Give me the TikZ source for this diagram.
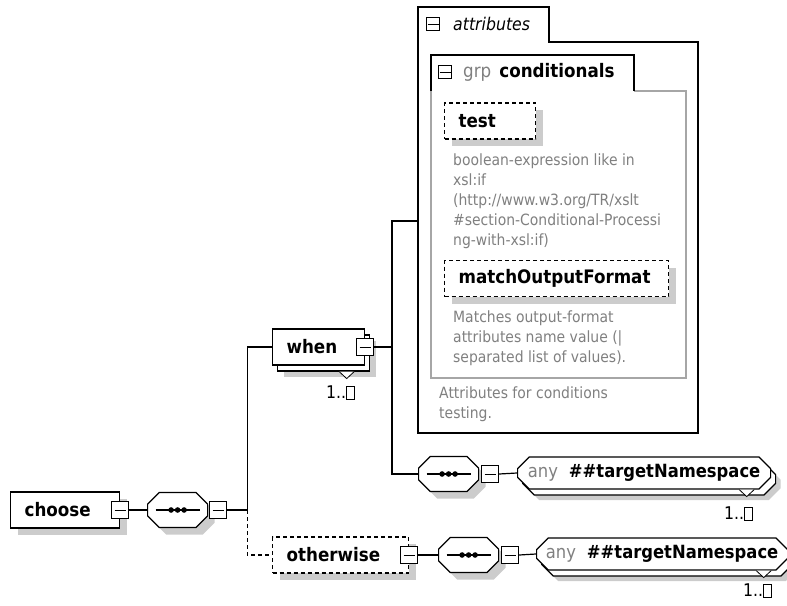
\documentclass[tikz,border=0pt]{standalone}
\usepackage{fontspec}
\setmainfont{DejaVu Sans}[FakeStretch=0.9]
\usetikzlibrary{shapes.misc,shadows}

\newcommand\namefont{\fontsize{18.6}{22}\selectfont\bfseries}
\newcommand\anyfont{\fontsize{18.2}{22}\selectfont}
\newcommand\descfont{\fontsize{15.5}{20}\selectfont}
\newcommand\infbox{{\setlength\fboxsep{0pt}\setlength\fboxrule{0.9pt}\fbox{\rule{0pt}{12pt}\hspace{7pt}}}}

\tikzset{
  box/.style={draw, line width=1.2pt, fill=white, anchor=west},
  elem/.style={box, minimum height=36pt, inner xsep=14pt, inner ysep=0pt, align=left, font=\namefont,
    drop shadow={shadow xshift=7pt, shadow yshift=-7pt, fill=gray!40, draw=none, opacity=1}},
  multielem/.style={box, minimum height=36pt, inner xsep=14pt, inner ysep=0pt, align=left, font=\namefont,
    drop shadow={shadow xshift=11pt, shadow yshift=-12pt, fill=gray!40, draw=none, opacity=1},
    copy shadow={shadow xshift=5pt, shadow yshift=-6pt, draw, fill=white, line width=1.2pt}},
  optional/.style={dash pattern=on 4pt off 3pt},
  seq/.style={box, chamfered rectangle, chamfered rectangle xsep=8pt, text width=44pt, text height=11pt, text depth=6pt,
    inner xsep=0pt, inner ysep=0pt, minimum width=60pt, minimum height=35pt,
    drop shadow={shadow xshift=7pt, shadow yshift=-7pt, fill=gray!40, draw=none, opacity=1},
    path picture={
      \draw[black, line width=1.2pt] ([xshift=-22pt]path picture bounding box.center) -- ([xshift=22pt]path picture bounding box.center);
      \foreach \dx in {-6.5,0,6.5} \fill[black] ([xshift=\dx pt]path picture bounding box.center) circle[radius=2.8pt];
    }},
  anybox/.style={box, chamfered rectangle, chamfered rectangle xsep=8pt, minimum height=32pt, inner sep=0pt, font=\anyfont,
    drop shadow={shadow xshift=10pt, shadow yshift=-11pt, fill=gray!40, draw=none, opacity=1},
    copy shadow={shadow xshift=5pt, shadow yshift=-6pt, draw, fill=white, line width=1.2pt}},
  toggle/.style={draw, fill=white, line width=1pt, minimum size=17pt, inner sep=0pt,
    path picture={\draw[black, line width=1pt] ([xshift=-5.5pt]path picture bounding box.center) -- ([xshift=5.5pt]path picture bounding box.center);}},
  smalltoggle/.style={toggle, minimum size=13pt},
  desc/.style={anchor=north west, inner sep=0pt, align=left, font=\descfont, text=gray},
  mult/.style={anchor=east, inner sep=0pt, font=\fontsize{17.5}{20}\selectfont},
  link/.style={line width=1.2pt},
  tri/.style={line width=0.8pt, fill=white}
}

\begin{document}
\begin{tikzpicture}[x=1pt,y=-1pt]
  \useasboundingbox (0,0) rectangle (787,605);

  % attributes panel
  \draw[line width=1.2pt, fill=white] (418,433) -- (418,7) -- (549,7) -- (549,42) -- (698,42) -- (698,433) -- cycle;
  \node[smalltoggle] (attrT) at (433,24) {};
  \node[anchor=west, inner sep=0pt, font=\fontsize{17.5}{20}\selectfont\itshape] (attrTitle) at (453,24) {attributes};
  \coordinate (attrIn) at (418,221);
  \draw[gray!70, line width=1.2pt] (634,91) -- (686,91) -- (686,378) -- (431,378) -- (431,91);
  \draw[line width=1.2pt] (431,91) -- (431,55) -- (634,55) -- (634,91);
  \node[smalltoggle] (grpT) at (445,72) {};
  \node[anchor=west, inner sep=0pt, font=\namefont] (grpTitle) at (463,72) {\textcolor{gray}{\mdseries grp}\hspace{8pt}conditionals};

  \node[elem, optional, text width=63pt] (test) at (444,121) {test};
  \node[desc] (testDoc) at (453,154) {boolean-expression like in\\xsl:if\\(http://www.w3.org/TR/xslt\\\#section-Conditional-Processi\\ng-with-xsl:if)};
  \node[elem, optional, text width=196pt] (match) at (444,278.5) {matchOutputFormat};
  \node[desc] (matchDoc) at (453,311) {Matches output-format\\attributes name value (|\\separated list of values).};
  \node[desc] (attrDoc) at (439,387) {Attributes for conditions\\testing.};

  % main tree
  \node[elem, text width=81pt] (choose) at (10,510) {choose};
  \node[toggle] (chooseT) at (choose.east) {};
  \node[seq] (seq1) at (147,510) {};
  \node[toggle, anchor=west] (seq1T) at ([xshift=1pt]seq1.east) {};

  \node[multielem, text width=64pt] (when) at (272,347) {when};
  \node[toggle] (whenT) at (when.east) {};
  \draw[tri] ([shift={(-26,6)}]when.south east) -- ++(7.5,7) -- ++(7.5,-7);
  \node[mult] (whenM) at ([shift={(-10,27)}]when.south east) {1..\infbox};

  \node[elem, optional, text width=108pt] (otherwise) at (272,555) {otherwise};
  \node[toggle] (otherwiseT) at (otherwise.east) {};

  \node[seq] (seq2) at (418,474) {};
  \node[toggle, anchor=west] (seq2T) at ([xshift=2pt]seq2.east) {};
  \node[anybox, minimum width=253pt] (any1) at (517,473) {\textcolor{gray}{any}\hspace{11pt}\textbf{\#\#targetNamespace}};
  \draw[tri] ([shift={(-26,6)}]any1.south east) -- ++(7.5,7) -- ++(7.5,-7);
  \node[mult] (any1M) at ([shift={(-12,30)}]any1.south east) {1..\infbox};

  \node[seq] (seq3) at (438,555) {};
  \node[toggle, anchor=west] (seq3T) at ([xshift=2pt]seq3.east) {};
  \node[anybox, minimum width=251pt] (any2) at (536,554) {\textcolor{gray}{any}\hspace{11pt}\textbf{\#\#targetNamespace}};
  \draw[tri] ([shift={(-26,6)}]any2.south east) -- ++(7.5,7) -- ++(7.5,-7);
  \node[mult] (any2M) at ([shift={(-10,26)}]any2.south east) {1..\infbox};

  % connectors
  \draw[link] (chooseT.east) -- (seq1.west);
  \draw[link] (seq1T.east) -- ++(20,0) coordinate (fork1) |- (when.west);
  \draw[link, optional] (fork1) |- (otherwise.west);
  \coordinate (fork2) at (392,347);
  \draw[link] (whenT.east) -- (fork2) |- (attrIn);
  \draw[link] (fork2) |- (seq2.west);
  \draw[link] (seq2T.east) -- (any1.west);
  \draw[link] (otherwiseT.east) -- (seq3.west);
  \draw[link] (seq3T.east) -- (any2.west);
\end{tikzpicture}
\end{document}
